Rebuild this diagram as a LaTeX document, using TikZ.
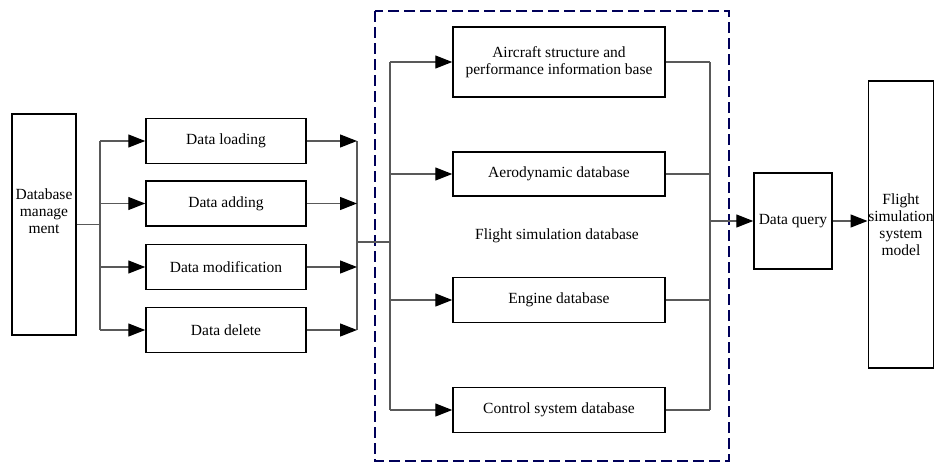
\documentclass[tikz,border=0pt]{standalone}
\usepackage{fontspec}
\setmainfont{Liberation Serif}
\usetikzlibrary{arrows.meta}

\tikzset{
    block node/.style={rectangle,draw,line width=1.5pt,align=center,inner sep=2pt},
    group box/.style={draw=blue!35!black,line width=2.5pt,dash pattern=on 11pt off 5pt},
    link/.style={draw=black!65,line width=1.3pt},
    arrow link/.style={link,-{Triangle[length=17pt,width=13pt,color=black]}}
    }

\begin{document}
\begin{tikzpicture}[x=1pt,y=-1pt,font=\fontsize{15.5}{17}\selectfont]
                \useasboundingbox (0,0) rectangle (934,463);
                \draw[group box] (375,11) rectangle (729,461);

                \node(manage)[block node,minimum width=64,minimum height=221] at (44,224.5) {Database\\manage\\ment\\[10pt]};
                \node(load)[block node,minimum width=160,minimum height=45] at (226,141) {Data loading};
                \node(add)[block node,minimum width=160,minimum height=45] at (226,203.5) {Data adding};
                \node(modify)[block node,minimum width=160,minimum height=45] at (226,267) {Data modification};
                \node(delete)[block node,minimum width=160,minimum height=45] at (226,330) {Data delete};

                \node(aircraft)[block node,minimum width=212,minimum height=70] at (559,62) {Aircraft structure and\\performance information base};
                \node(aero)[block node,minimum width=212,minimum height=44] at (559,174) {Aerodynamic database};
                \node(fsdb) at (557,236) {Flight simulation database};
                \node(engine)[block node,minimum width=212,minimum height=45] at (559,300) {Engine database};
                \node(control)[block node,minimum width=212,minimum height=45] at (559,410) {Control system database};

                \node(query)[block node,minimum width=78,minimum height=96,inner sep=0pt] at (793,221) {Data query};
                \node(model)[block node,minimum width=64,minimum height=287,inner sep=0pt] at (901,224.5) {Flight\\simulation\\system\\model};

                \coordinate(split) at (100,224);
                \coordinate(merge) at (357,242);
                \coordinate(bus) at (390,242);
                \coordinate(out) at (710,221);

                % left fan-out
                \draw[link] (manage.east) -- (manage.east -| split);
                \draw[link] (split |- load) -- (split |- delete);
                \foreach \n in {load,add,modify,delete}
                    \draw[arrow link] (split |- \n) -- (\n.west);

                % fan-in
                \draw[link] (merge |- load) -- (merge |- delete);
                \foreach \n in {load,add,modify,delete}
                    \draw[arrow link] (\n.east) -- (merge |- \n);
                \draw[link] (merge) -- (bus);

                % into the database group
                \draw[link] (bus |- aircraft) -- (bus |- control);
                \foreach \n in {aircraft,aero,engine,control}
                    \draw[arrow link] (bus |- \n) -- (\n.west);

                % out of the database group
                \draw[link] (out |- aircraft) -- (out |- control);
                \foreach \n in {aircraft,aero,engine,control}
                    \draw[link] (\n.east) -- (out |- \n);
                \draw[arrow link] (out) -- (query.west);
                \draw[arrow link] (query.east) -- (model.west |- query.east);
            \end{tikzpicture}
\end{document}
